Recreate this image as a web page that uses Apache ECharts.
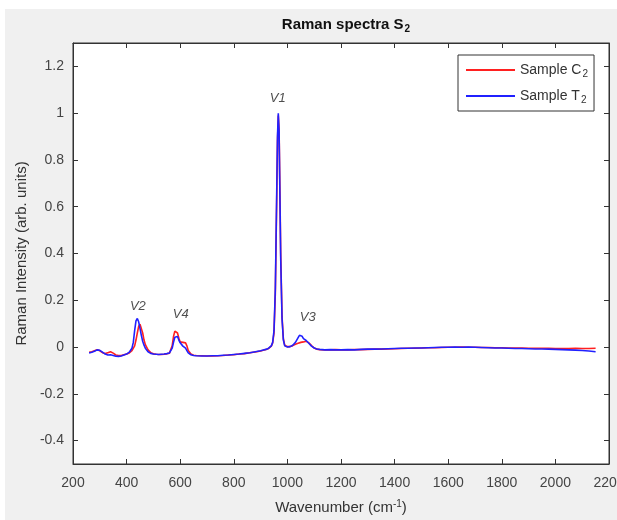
<!DOCTYPE html>
<html>
<head>
<meta charset="utf-8">
<script src="https://cdn.jsdelivr.net/npm/echarts@6/dist/echarts.min.js"></script>
<style>html,body{margin:0;padding:0;background:#fff}#c{width:617px;height:520px}</style>
</head>
<body>
<div id="c"></div>
<script>
const wavenumber = [
  260,270,280,290,300,310,320,330,340,350,360,370,380,390,400,410,420,
  425,430,435,440,445,450,455,460,465,470,
  480,490,500,510,520,530,540,550,560,
  565,570,575,580,585,590,595,600,605,610,615,620,625,630,
  640,650,660,
  680,700,720,740,760,780,800,820,840,860,880,900,
  910,920,930,940,
  945,950,955,960,
  963,966,969,972,975,
  980,985,990,
  1000,1010,1020,1030,1040,
  1045,1050,1055,1060,1065,1070,1075,1080,
  1090,1100,1110,1120,
  1140,1160,1180,1200,
  1225,1250,1275,1300,1325,1350,1375,1400,1425,1450,
  1475,1500,1525,1550,1575,1600,1625,1650,1675,1700,
  1725,1750,1775,1800,1825,1850,1875,1900,1925,1950,
  1975,2000,2025,2050,2075,2100,2125,2150
];
const sampleT2 = [
  -0.025,-0.022,-0.018,-0.012,-0.014,-0.022,-0.030,-0.034,-0.033,-0.036,-0.039,-0.040,-0.038,-0.034,-0.030,-0.022,-0.005,
  0.020,0.070,0.112,0.122,0.108,0.080,0.050,0.025,0.008,-0.005,
  -0.020,-0.027,-0.030,-0.031,-0.032,-0.031,-0.030,-0.028,-0.025,
  -0.020,-0.005,0.020,0.042,0.050,0.045,0.030,0.018,0.010,0.004,0.002,-0.005,-0.015,-0.025,
  -0.033,-0.036,-0.037,
  -0.038,-0.038,-0.037,-0.037,-0.035,-0.034,-0.032,-0.030,-0.027,-0.024,-0.020,-0.016,
  -0.013,-0.010,-0.005,0.005,
  0.020,0.070,0.250,0.650,
  0.900,1.000,0.920,0.650,0.380,
  0.120,0.030,0.005,
  0.000,0.002,0.008,0.020,0.040,
  0.050,0.052,0.046,0.036,0.030,0.028,0.024,0.016,
  0.004,-0.004,-0.008,-0.010,
  -0.012,-0.011,-0.012,-0.012,
  -0.011,-0.012,-0.010,-0.009,-0.009,-0.008,-0.007,-0.006,-0.005,-0.005,
  -0.004,-0.004,-0.003,-0.002,-0.001,-0.001,0.000,-0.001,0.000,-0.001,
  -0.002,-0.003,-0.004,-0.004,-0.005,-0.006,-0.006,-0.007,-0.008,-0.008,
  -0.009,-0.010,-0.011,-0.012,-0.013,-0.015,-0.017,-0.020
];
const sampleC2 = [
  -0.022,-0.020,-0.016,-0.012,-0.016,-0.024,-0.028,-0.024,-0.020,-0.026,-0.034,-0.036,-0.036,-0.033,-0.030,-0.025,-0.015,
  -0.008,0.005,0.030,0.060,0.088,0.098,0.090,0.060,0.030,0.010,
  -0.012,-0.024,-0.029,-0.031,-0.032,-0.032,-0.031,-0.029,-0.026,
  -0.018,0.005,0.045,0.068,0.074,0.060,0.038,0.022,0.016,0.020,0.024,0.018,0.005,-0.015,
  -0.030,-0.035,-0.036,
  -0.037,-0.038,-0.038,-0.037,-0.036,-0.034,-0.033,-0.030,-0.028,-0.024,-0.021,-0.017,
  -0.014,-0.010,-0.006,0.004,
  0.018,0.060,0.230,0.620,
  0.880,0.990,0.930,0.680,0.400,
  0.130,0.035,0.008,
  0.002,0.002,0.006,0.012,0.016,
  0.018,0.020,0.020,0.022,0.024,0.025,0.024,0.018,
  0.006,-0.004,-0.009,-0.011,
  -0.012,-0.012,-0.011,-0.012,
  -0.012,-0.011,-0.011,-0.010,-0.009,-0.009,-0.008,-0.007,-0.006,-0.005,
  -0.005,-0.004,-0.003,-0.003,-0.002,-0.001,-0.001,0.000,-0.001,-0.001,
  -0.002,-0.002,-0.003,-0.003,-0.004,-0.004,-0.004,-0.005,-0.005,-0.005,
  -0.005,-0.006,-0.006,-0.006,-0.005,-0.006,-0.006,-0.005
];
const peakLabels = ['V1','V2','V4','V3'];
const peakX = [964, 442, 602, 1076];
const peakY = [1.065, 0.175, 0.14, 0.128];
const yTicks = [-0.4,-0.2,0,0.2,0.4,0.6,0.8,1,1.2];

const axisColor = '#333';
const font = 'Liberation Sans, Arial, Helvetica, sans-serif';
const chart = echarts.init(document.getElementById('c'), null, {renderer:'canvas'});
const pairs = arr => wavenumber.map((w,i) => [w, arr[i]]);

chart.setOption({
  backgroundColor: '#ffffff',
  animation: false,
  textStyle: {fontFamily: font},
  graphic: [{type:'rect', z:-10, silent:true, shape:{x:5,y:9,width:612,height:511}, style:{fill:'#f0f0f0'}}],
  title: {
    text: '{t|Raman spectra S}{s|2}',
    left: 341, top: 11, textAlign: 'center',
    textStyle: {rich: {
      t: {fontSize: 15, fontWeight: 'bold', color: '#111', fontFamily: font},
      s: {fontSize: 10, fontWeight: 'bold', color: '#111', fontFamily: font, padding: [8,0,0,1]}
    }}
  },
  legend: {
    data: [{name:'Sample C2', icon:'rect'}, {name:'Sample T2', icon:'rect'}],
    orient: 'vertical',
    left: 458, top: 55,
    padding: [8, 6, 6, 8],
    itemWidth: 49, itemHeight: 2, itemGap: 10,
    backgroundColor: '#fff', borderColor: '#333', borderWidth: 1,
    formatter: n => '{a|' + n.slice(0, -1) + '}{s|' + n.slice(-1) + '}',
    textStyle: {rich: {
      a: {fontSize: 14, color: '#333', fontFamily: font},
      s: {fontSize: 10, color: '#333', fontFamily: font, padding: [8,0,0,1]}
    }}
  },
  grid: {left: 73, right: 8, top: 43, bottom: 56, outerBoundsMode: 'none', containLabel: false,
         show: true, backgroundColor: '#fff', borderColor: axisColor, borderWidth: 1},
  xAxis: [{
    type: 'value', min: 200, max: 2200, interval: 200,
    name: '{a|Wavenumber (cm}{s|-1}{a|)}', nameLocation: 'middle', nameGap: 35,
    nameTextStyle: {rich: {
      a: {fontSize: 15, color: '#333', fontFamily: font},
      s: {fontSize: 10, color: '#333', fontFamily: font, padding: [0,0,8,0]}
    }},
    axisLine: {show: true, onZero: false, lineStyle: {color: axisColor}},
    axisTick: {show: true, inside: true, length: 5, lineStyle: {color: axisColor}},
    axisLabel: {fontSize: 14, color: '#444', margin: 12, fontFamily: font, formatter: v => String(v), hideOverlap: false},
    splitLine: {show: false}
  }, {
    type: 'value', min: 200, max: 2200, interval: 200, position: 'top',
    axisLine: {show: true, onZero: false, lineStyle: {color: axisColor}},
    axisTick: {show: true, inside: true, length: 5, lineStyle: {color: axisColor}},
    axisLabel: {show: false}, splitLine: {show: false}
  }],
  yAxis: [{
    type: 'value', min: -0.5, max: 1.3,
    name: 'Raman Intensity (arb. units)', nameLocation: 'middle', nameGap: 42,
    nameTextStyle: {fontSize: 15, color: '#333', fontFamily: font},
    axisLine: {show: true, onZero: false, lineStyle: {color: axisColor}},
    axisTick: {show: true, inside: true, length: 5, customValues: yTicks, lineStyle: {color: axisColor}},
    axisLabel: {fontSize: 14, color: '#444', margin: 9, customValues: yTicks, fontFamily: font},
    splitLine: {show: false}
  }, {
    type: 'value', min: -0.5, max: 1.3, position: 'right',
    axisLine: {show: true, onZero: false, lineStyle: {color: axisColor}},
    axisTick: {show: true, inside: true, length: 5, customValues: yTicks, lineStyle: {color: axisColor}},
    axisLabel: {show: false}, splitLine: {show: false}
  }],
  series: [{
    name: 'Sample C2', type: 'line', data: pairs(sampleC2), symbol: 'none',
    lineStyle: {color: '#ff2020', width: 1.6}, itemStyle: {color: '#ff2020'}
  }, {
    name: 'Sample T2', type: 'line', data: pairs(sampleT2), symbol: 'none',
    lineStyle: {color: '#2020ff', width: 1.6}, itemStyle: {color: '#2020ff'}
  }, {
    name: 'labels', type: 'scatter', symbolSize: 0, silent: true,
    data: peakLabels.map((l,i) => [peakX[i], peakY[i], l]),
    label: {show: true, position: 'inside', formatter: p => p.data[2], fontSize: 13, fontStyle: 'italic', color: '#222', fontFamily: font}
  }]
});
</script>
</body>
</html>
